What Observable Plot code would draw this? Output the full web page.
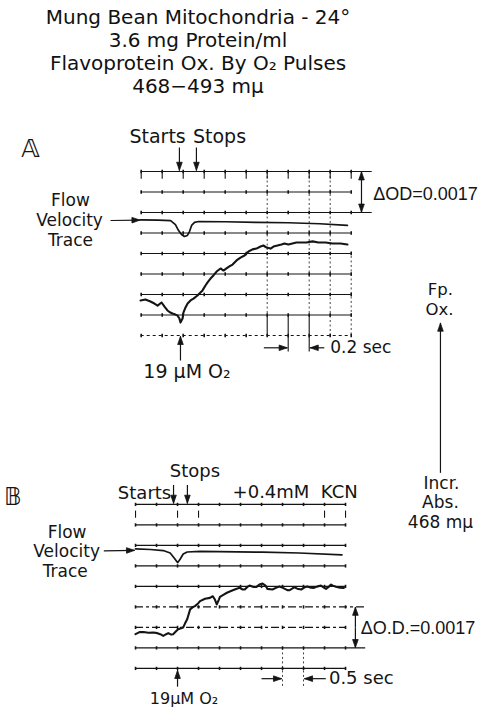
<!DOCTYPE html>
<html>
<head>
<meta charset="utf-8">
<script src="https://cdn.jsdelivr.net/npm/d3@7"></script>
<script src="https://cdn.jsdelivr.net/npm/@observablehq/plot@0.6"></script>
<style>
  html, body { margin: 0; padding: 0; background: #fff; }
  #title { width: 396px; height: 112px; box-sizing: border-box; padding-top: 6px;
           text-align: center; font-family: "DejaVu Sans", sans-serif; font-size: 20px;
           line-height: 23px; color: #111; }
  #title div { white-space: nowrap; }
  #chart svg { display: block; }
</style>
</head>
<body>
<div id="title"></div>
<div id="chart"></div>
<script>
// ---------------- data ----------------
const titleLines = ["Mung Bean Mitochondria - 24°", "3.6 mg Protein/ml", "Flavoprotein Ox. By O₂ Pulses", "468−493 mμ"];

const gridCols = [0, 1, 2, 3, 4, 5, 6, 7, 8, 9, 10];
const gridRows = [0, 1, 2, 3, 4, 5, 6, 7, 8];

// Panel A: time in chart divisions (0.2 s each), deflection in grid rows (downward)
const flowA_t = [-0.03, 0.8, 1.40, 1.63, 1.78, 1.92, 2.06, 2.20, 2.30, 2.40, 2.54, 2.73, 4.0, 5.5, 7.0, 8.5, 9.82];
const flowA_y = [2.36, 2.37, 2.40, 2.59, 2.88, 3.07, 3.17, 3.12, 2.93, 2.63, 2.48, 2.44, 2.45, 2.48, 2.50, 2.55, 2.63];

const traceA_t = [-0.03, 0.20, 0.44, 0.63, 0.78, 0.97, 1.11, 1.25, 1.39, 1.49, 1.63, 1.72, 1.82, 1.87,
  1.97, 2.01, 2.11, 2.21, 2.35, 2.49, 2.68, 2.92, 3.06, 3.16, 3.30, 3.44, 3.59, 3.78, 3.92, 4.06, 4.20, 4.35,
  4.54, 4.73, 4.92, 5.11, 5.30, 5.49, 5.68, 5.82, 5.97, 6.16, 6.30, 6.49, 6.68, 6.82, 7.01, 7.20, 7.39, 7.59,
  7.87, 8.16, 8.44, 8.78, 9.11, 9.49, 9.82];
const traceA_y = [6.29, 6.24, 6.34, 6.44, 6.54, 6.39, 6.59, 6.78, 6.88, 6.93, 6.98, 7.02, 7.17, 7.37,
  7.17, 6.88, 6.63, 6.44, 6.29, 6.20, 6.05, 5.80, 5.56, 5.41, 5.22, 5.07, 4.88, 4.73, 4.83, 4.73, 4.63, 4.54,
  4.34, 4.20, 4.10, 3.90, 3.80, 3.76, 3.66, 3.61, 3.71, 3.76, 3.66, 3.61, 3.56, 3.51, 3.56, 3.51, 3.46, 3.46,
  3.46, 3.41, 3.46, 3.46, 3.51, 3.51, 3.56];

// Panel B: time in chart divisions (0.5 s each), deflection in grid rows (downward)
const flowB_t = [0, 0.71, 1.32, 1.65, 1.84, 2.01, 2.13, 2.27, 2.46, 3.07, 6.05, 7.79, 9.83];
const flowB_y = [2.17, 2.20, 2.25, 2.37, 2.61, 2.84, 2.66, 2.42, 2.32, 2.29, 2.33, 2.37, 2.46];

const traceB_t = [0, 0.19, 0.38, 0.61, 0.85, 1.04, 1.18, 1.32, 1.46, 1.56,
  1.70, 1.79, 1.94, 2.03, 2.17, 2.27, 2.36, 2.46, 2.60, 2.74,
  2.83, 2.98, 3.07, 3.31, 3.54, 3.68, 3.78, 3.87, 3.97, 4.02,
  4.20, 4.35, 4.49, 4.63, 4.82, 4.96, 5.10, 5.20, 5.34, 5.43,
  5.62, 5.76, 5.90, 6.05, 6.19, 6.28, 6.52, 6.71, 6.85, 6.99,
  7.09, 7.23, 7.32, 7.46, 7.56, 7.70, 7.89, 8.03, 8.17, 8.36,
  8.50, 8.64, 8.83, 8.97, 9.07, 9.21, 9.31, 9.40, 9.54, 9.73, 9.92];
const traceB_y = [6.33, 6.23, 6.22, 6.26, 6.25, 6.28, 6.33, 6.41, 6.33, 6.28,
  6.35, 6.33, 6.18, 6.09, 6.04, 6.00, 5.80, 5.60, 5.12, 5.00,
  4.96, 4.83, 4.72, 4.60, 4.56, 4.48, 4.64, 4.88, 4.64, 4.51,
  4.40, 4.31, 4.25, 4.19, 4.11, 4.07, 4.15, 4.15, 4.01, 3.96,
  4.03, 4.02, 3.91, 3.86, 3.96, 4.12, 4.15, 4.06, 4.00, 4.06,
  4.11, 4.18, 4.19, 4.11, 4.04, 4.11, 4.15, 4.06, 4.00, 4.06,
  4.07, 4.01, 3.96, 4.06, 4.12, 4.01, 3.91, 3.96, 4.02, 4.06, 4.07];

// ---------------- layout (positions in grid units of each panel) ----------------
const W = 499, T = 112, H = 713 - T;
const UX = 21, UY = 20.5;                 // pixels per grid division
const ORIGIN = {px: 140.7, py: 171};      // page position of panel A grid corner
const INK = "#141414";
const DJ = "DejaVu Sans", LS = "Liberation Sans";

const panels = {
  A: {
    dx: 0, dy: 0,
    flow: [flowA_t, flowA_y], trace: [traceA_t, traceA_y],
    dashedRows: [8], dash: "3,3", capRows: [0, 2], capTo: 11.0,
    dotted: [[6, 0, 7], [8, 0, 7], [9, 0, 8], [10, 3.9, 8]],
    solid: [[6, 7, 8], [7, 7, 8.78], [8, 7, 8.78]],
    topDash: [gridCols, 0, 0.35],
    texts: [
      {t: "𝔸", x: -5.27, y: -1.12, s: 25},
      {t: "Starts", x: 0.78, y: -1.71, s: 19},
      {t: "Stops", x: 3.73, y: -1.71, s: 19},
      {t: "Flow", x: -3.37, y: 1.42, s: 17},
      {t: "Velocity", x: -3.41, y: 2.39, s: 17},
      {t: "Trace", x: -3.37, y: 3.36, s: 17},
      {t: "ΔOD=0.0017", x: 11.05, y: 1.12, s: 18, f: LS},
      {t: "0.2 sec", x: 9.0, y: 8.6, s: 17},
      {t: "19 μM O₂", x: 2.18, y: 9.8, s: 19},
      {t: "Fp.", x: 14.25, y: 5.78, s: 16.5},
      {t: "Ox.", x: 14.2, y: 6.74, s: 16.5},
      {t: "Incr.", x: 14.3, y: 15.2, s: 17},
      {t: "Abs.", x: 14.25, y: 16.15, s: 17},
      {t: "468 mμ", x: 14.25, y: 17.1, s: 17}
    ],
    arrows: [
      [1.82, -1.17, 1.82, -0.06], [2.63, -1.17, 2.63, -0.06],
      [-1.46, 2.39, -0.06, 2.37],
      [10.49, 1.0, 10.49, 0.02], [10.49, 1.0, 10.49, 1.98],
      [5.84, 8.6, 6.95, 8.6], [8.72, 8.6, 8.05, 8.6],
      [1.87, 9.22, 1.87, 8.05],
      [14.25, 14.7, 14.25, 7.4]
    ]
  },
  B: {
    dx: -0.27, dy: 16.24,
    flow: [flowB_t, flowB_y], trace: [traceB_t, traceB_y],
    dashedRows: [5, 6], dash: "8,3,3,3", capRows: [5, 7], capTo: 10.96,
    dotted: [[7, 7, 8.89], [8, 7, 8.89]],
    solid: [],
    topDash: [[0, 2, 3, 9, 10], 0.3, 0.65],
    texts: [
      {t: "𝔹", x: -5.85, y: -0.34, s: 24},
      {t: "Stops", x: 2.83, y: -1.6, s: 18},
      {t: "Starts", x: 1.7, y: -0.55, s: 18, a: "end"},
      {t: "+0.4mM\u00a0\u00a0KCN", x: 7.6, y: -0.6, s: 18},
      {t: "Flow", x: -3.26, y: 1.35, s: 17},
      {t: "Velocity", x: -3.28, y: 2.32, s: 17},
      {t: "Trace", x: -3.35, y: 3.29, s: 17},
      {t: "ΔO.D.=0.0017", x: 10.72, y: 6.05, s: 18, f: LS},
      {t: "0.5 sec", x: 9.21, y: 8.5, s: 18},
      {t: "19μM O₂", x: 2.31, y: 9.47, s: 16}
    ],
    arrows: [
      [1.81, -0.95, 1.81, -0.06], [2.47, -0.95, 2.47, -0.06],
      [-1.51, 2.27, -0.05, 2.24],
      [10.47, 6, 10.47, 5.02], [10.47, 6, 10.47, 6.98],
      [6.0, 8.5, 6.95, 8.5], [9.06, 8.5, 8.05, 8.5],
      [2.0, 8.89, 2.0, 8.1]
    ]
  }
};

// ---------------- build tables ----------------
const hSolid = [], hDashed = [], ticks = [], dotted = [], solid = [], traces = [], texts = [], shafts = [], heads = [];
let arrowId = 0;
function headTri(x1, y1, x2, y2, len = 8, half = 2.8) {
  const dxp = (x2 - x1) * UX, dyp = (y2 - y1) * UY, L = Math.hypot(dxp, dyp);
  const ux = dxp / L, uy = dyp / L;
  const tx = x2 * UX, ty = y2 * UY, bx = tx - ux * len, by = ty - uy * len;
  return [[tx, ty], [bx - uy * half, by + ux * half], [bx + uy * half, by - ux * half], [tx, ty]]
    .map(([px, py]) => ({x: px / UX, y: py / UY}));
}
for (const [name, p] of Object.entries(panels)) {
  const X = v => v + p.dx, Y = v => v + p.dy;
  for (const r of gridRows) {
    const x2 = p.capRows.includes(r) ? p.capTo : gridCols[gridCols.length - 1];
    const row = {y: Y(r), x1: X(gridCols[0]), x2: X(x2), dash: p.dash};
    (p.dashedRows.includes(r) ? hDashed : hSolid).push(row);
    for (const c of gridCols) ticks.push({x: X(c), y1: Y(r) - 0.08, y2: Y(r) + 0.08});
  }
  for (const [c, a, b] of p.dotted) dotted.push({x: X(c), y1: Y(a), y2: Y(b)});
  for (const [c, a, b] of p.solid) solid.push({x: X(c), y1: Y(a), y2: Y(b)});
  for (const c of p.topDash[0]) solid.push({x: X(c), y1: Y(p.topDash[1]), y2: Y(p.topDash[2])});
  p.flow[0].forEach((t, i) => traces.push({id: name + "flow", w: 1.7, x: X(t), y: Y(p.flow[1][i])}));
  p.trace[0].forEach((t, i) => traces.push({id: name + "trace", w: 2.1, x: X(t), y: Y(p.trace[1][i])}));
  for (const d of p.texts) texts.push({...d, x: X(d.x), y: Y(d.y), a: d.a || (d.t.startsWith("Δ") || d.t.endsWith("sec") ? "start" : "middle"), f: d.f || DJ});
  for (const [x1, y1, x2, y2] of p.arrows) {
    arrowId++;
    shafts.push({x1: X(x1), y1: Y(y1), x2: X(x2), y2: Y(y2)});
    headTri(X(x1), Y(y1), X(x2), Y(y2)).forEach(pt => heads.push({...pt, id: arrowId}));
  }
}

// ---------------- title ----------------
const title = document.getElementById("title");
for (const line of titleLines) {
  const div = document.createElement("div");
  div.textContent = line;
  title.appendChild(div);
}

// ---------------- plot ----------------
const xDomain = [-ORIGIN.px / UX, (W - ORIGIN.px) / UX];
const yDomain = [(T - ORIGIN.py) / UY, (T + H - ORIGIN.py) / UY];

const textMarks = [];
for (const a of ["start", "middle", "end"]) {
  for (const f of [DJ, LS]) {
    const sub = texts.filter(d => d.a === a && d.f === f);
    if (sub.length) textMarks.push(Plot.text(sub, {
      x: "x", y: "y", text: "t", fontSize: "s", textAnchor: a, fontFamily: f, fill: INK
    }));
  }
}

const chart = Plot.plot({
  width: W, height: H, margin: 0,
  x: {domain: xDomain, range: [0, W], axis: null},
  y: {domain: yDomain, range: [0, H], axis: null},
  style: {background: "#fff", color: INK},
  marks: [
    Plot.ruleY(hSolid, {y: "y", x1: "x1", x2: "x2", stroke: INK, strokeWidth: 1.2}),
    Plot.ruleY(hDashed.filter(d => d.dash === "3,3"), {y: "y", x1: "x1", x2: "x2", stroke: INK, strokeWidth: 1.1, strokeDasharray: "3,3"}),
    Plot.ruleY(hDashed.filter(d => d.dash !== "3,3"), {y: "y", x1: "x1", x2: "x2", stroke: INK, strokeWidth: 1.2, strokeDasharray: "8,3,3,3"}),
    Plot.link(ticks, {x1: "x", x2: "x", y1: "y1", y2: "y2", stroke: INK, strokeWidth: 1.6}),
    Plot.link(dotted, {x1: "x", x2: "x", y1: "y1", y2: "y2", stroke: INK, strokeWidth: 1, strokeDasharray: "2,2.5", strokeOpacity: 0.8}),
    Plot.link(solid, {x1: "x", x2: "x", y1: "y1", y2: "y2", stroke: INK, strokeWidth: 1.1}),
    Plot.line(traces.filter(d => d.w < 2), {x: "x", y: "y", z: "id", stroke: INK, strokeWidth: 1.7, curve: "linear", strokeLinejoin: "round"}),
    Plot.line(traces.filter(d => d.w >= 2), {x: "x", y: "y", z: "id", stroke: INK, strokeWidth: 2.1, curve: "linear", strokeLinejoin: "round"}),
    Plot.link(shafts, {x1: "x1", y1: "y1", x2: "x2", y2: "y2", stroke: INK, strokeWidth: 1.2}),
    Plot.line(heads, {x: "x", y: "y", z: "id", fill: INK, stroke: INK, strokeWidth: 0.8}),
    ...textMarks
  ]
});
document.getElementById("chart").appendChild(chart);
</script>
</body>
</html>
